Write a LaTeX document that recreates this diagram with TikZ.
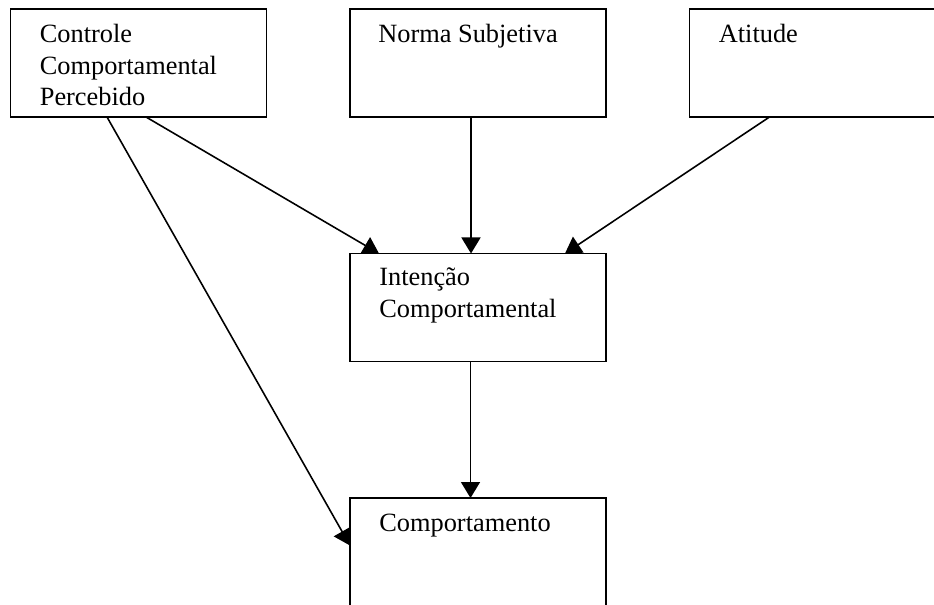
\documentclass[tikz,border=0pt]{standalone}
\usepackage{fontspec}
\setmainfont{Liberation Serif}
\usetikzlibrary{arrows.meta,positioning}

\begin{document}
\begin{tikzpicture}[node distance=4.89cm and 6.79cm, on grid,
  box/.style={draw, line width=1.1pt, minimum width=5.12cm, minimum height=2.16cm, outer sep=0pt},
  txt/.style={anchor=north west, align=left, inner sep=0pt, font=\fontsize{15}{18}\selectfont},
  arr/.style={-{Triangle[width=0.38cm,length=0.32cm]}, line width=0.9pt}]
\useasboundingbox (0,0) rectangle (18.68,-12.1);
\clip (0,0) rectangle (18.68,-12.1);
\node [box] (norma) at (9.56,-1.26) {};
\node [box] (ctrl) [left = of norma] {};
\node [box] (atit) [right = of norma] {};
\node [box] (intenc) [below = of norma] {};
\node [box] (comp) [below = of intenc] {};
% texts
\node [txt] (ctrl-t) at ([xshift=0.58cm, yshift=-0.22cm]ctrl.north west) {\strut Controle\\Comportamental\\Percebido};
\node [txt] (norma-t) at ([xshift=0.56cm, yshift=-0.22cm]norma.north west) {\strut Norma Subjetiva};
\node [txt] (atit-t) at ([xshift=0.58cm, yshift=-0.22cm]atit.north west) {\strut Atitude};
\node [txt] (intenc-t) at ([xshift=0.58cm, yshift=-0.2cm]intenc.north west) {\strut Intenção\\Comportamental};
\node [txt] (comp-t) at ([xshift=0.58cm, yshift=-0.22cm]comp.north west) {\strut Comportamento};
% arrows
\draw [arr] ([xshift=0.15cm]ctrl.south) -- ([xshift=0.58cm]intenc.north west);
\draw [arr] ([xshift=-0.63cm]ctrl.south) -- ([yshift=0.13cm]comp.west);
\draw [arr] ([xshift=-0.14cm]norma.south) -- ([xshift=-0.14cm]intenc.north);
\draw [arr] ([xshift=-0.96cm]atit.south) -- ([xshift=-0.82cm]intenc.north east);
\draw [arr] ([xshift=-0.15cm]intenc.south) -- ([xshift=-0.15cm]comp.north);
\end{tikzpicture}
\end{document}
